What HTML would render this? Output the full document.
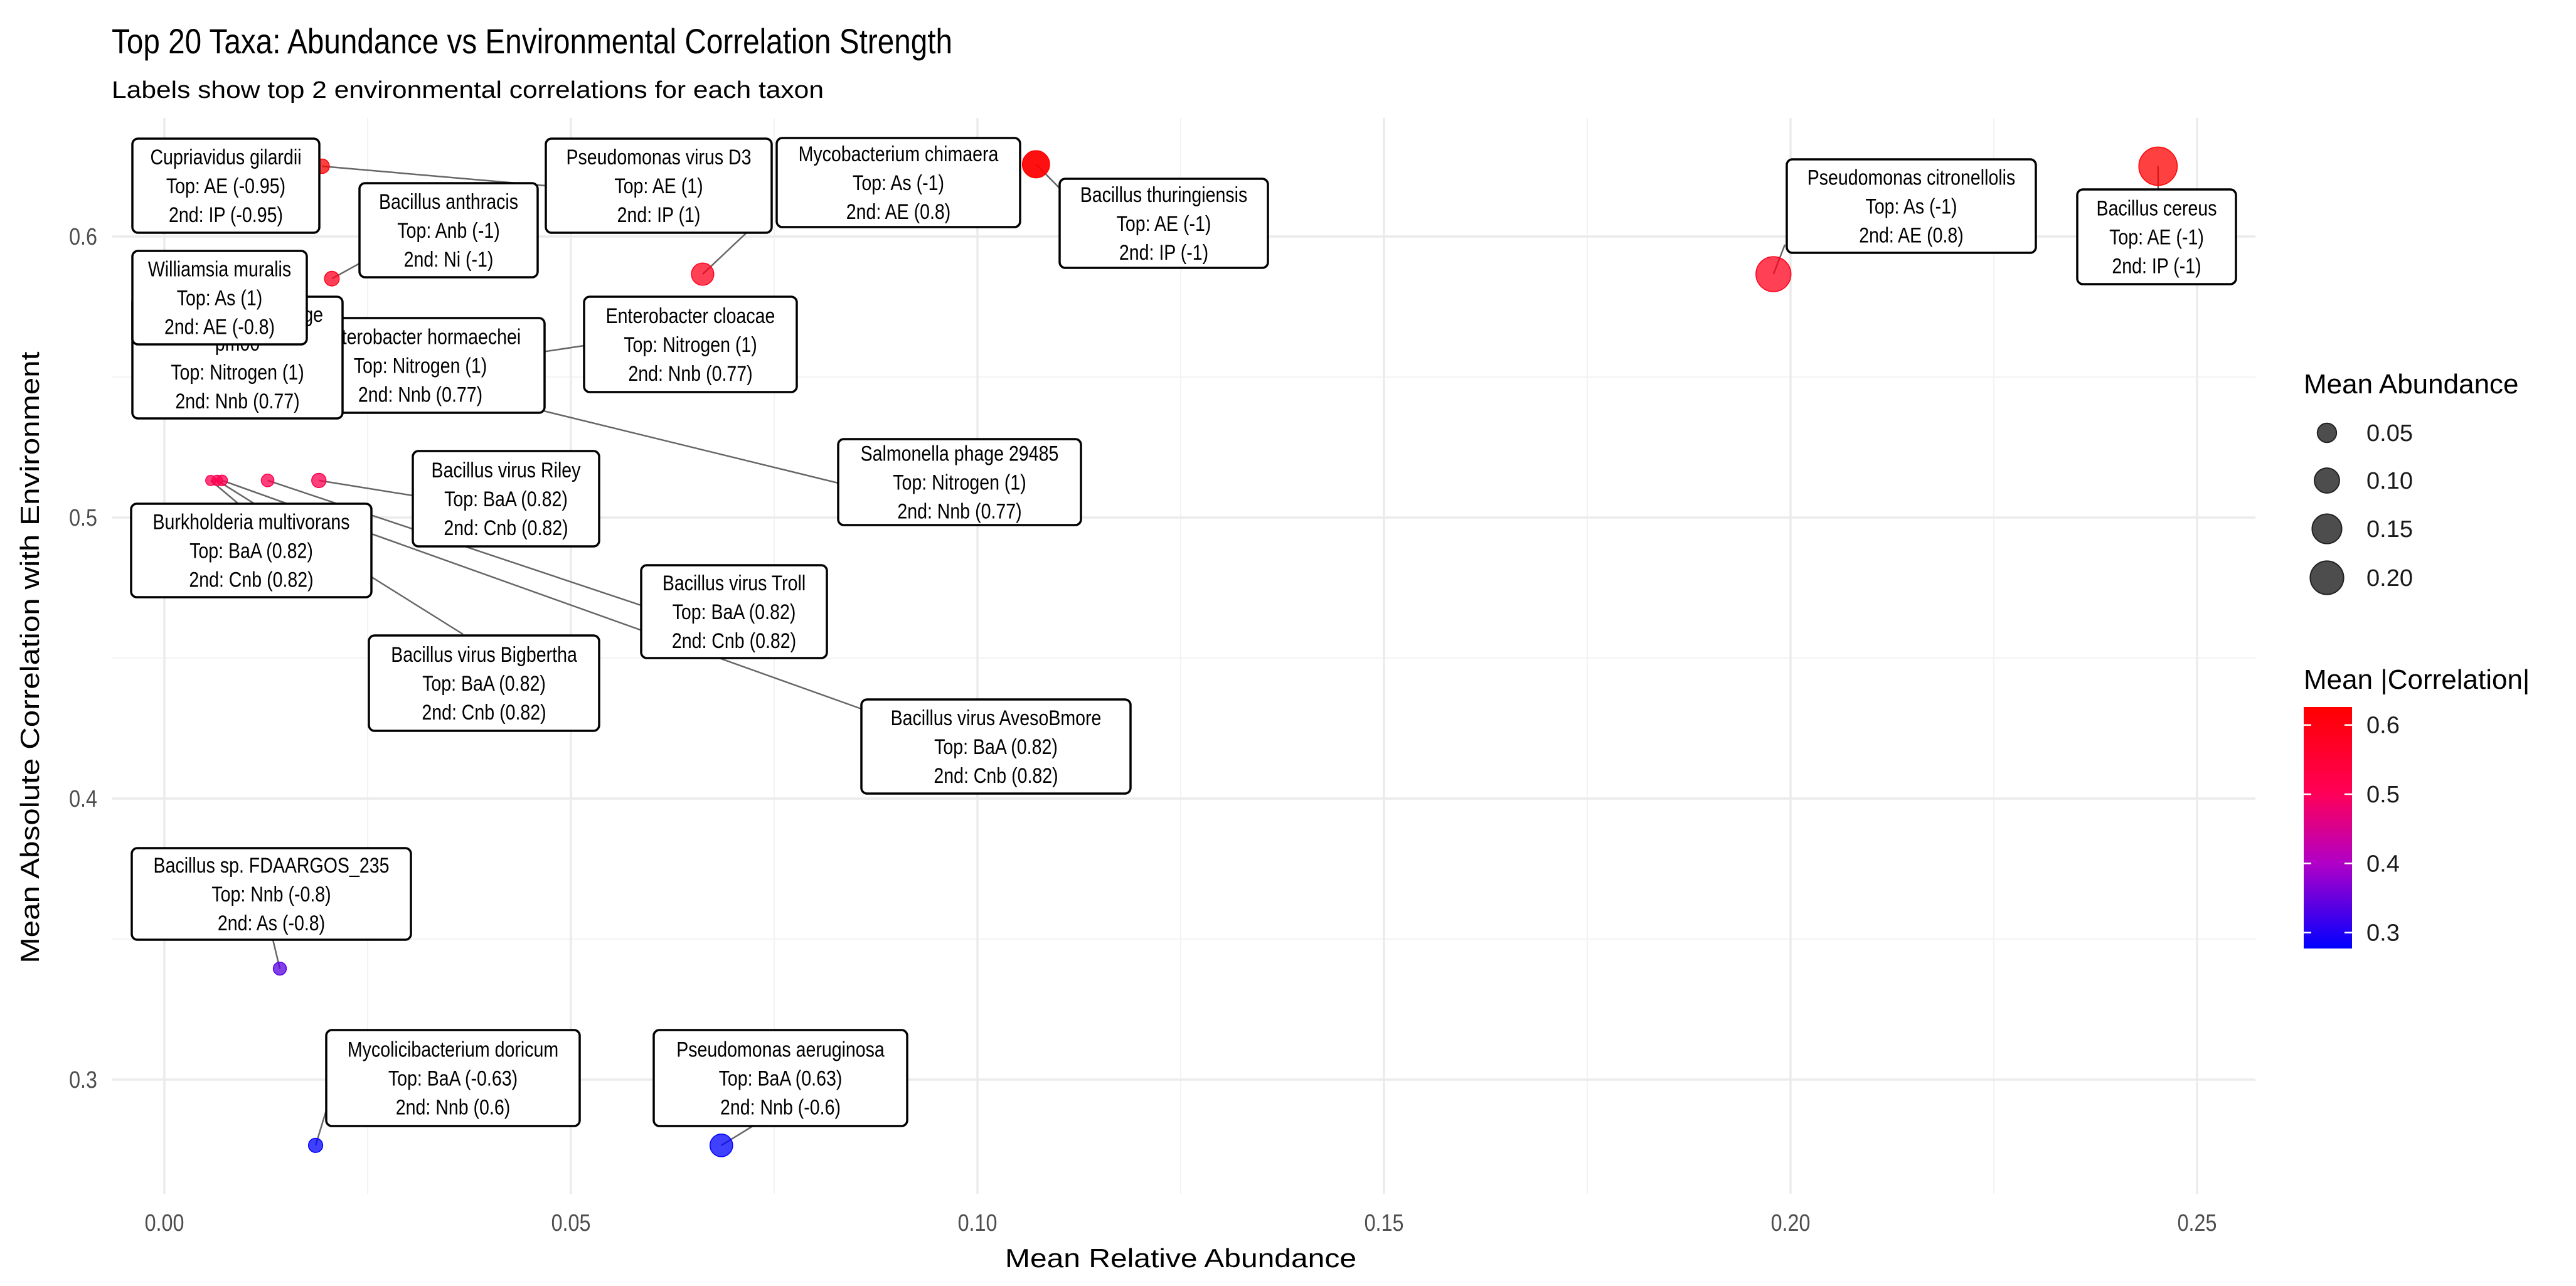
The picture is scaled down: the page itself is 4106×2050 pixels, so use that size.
<!DOCTYPE html>
<html><head><meta charset="utf-8"><style>
html,body{margin:0;padding:0;background:#fff}
svg{display:block;font-family:"Liberation Sans",Arial,sans-serif}
</style></head><body>
<svg id="chart" width="4106" height="2050" viewBox="0 0 4106 2050" xmlns="http://www.w3.org/2000/svg">
<rect width="4106" height="2050" fill="#fff"/>
<text x="178" y="85" font-size="56" textLength="1340" lengthAdjust="spacingAndGlyphs" fill="#000">Top 20 Taxa: Abundance vs Environmental Correlation Strength</text>
<text x="178" y="156" font-size="38" textLength="1135" lengthAdjust="spacingAndGlyphs" fill="#000">Labels show top 2 environmental correlations for each taxon</text>
<g id="grid"></g>
<g id="axes"></g>
<g id="segments"></g>
<g id="points"></g>
<g id="labels"></g>
<text x="1882" y="2020" font-size="42" text-anchor="middle" textLength="560" lengthAdjust="spacingAndGlyphs">Mean Relative Abundance</text>
<text transform="translate(62,1048) rotate(-90)" font-size="42" text-anchor="middle" textLength="975" lengthAdjust="spacingAndGlyphs">Mean Absolute Correlation with Environment</text>
<g id="legend"></g>
</svg>
<script>
const taxa = ["Cupriavidus gilardii","Pseudomonas virus D3","Mycobacterium chimaera","Bacillus anthracis","Bacillus thuringiensis","Pseudomonas citronellolis","Bacillus cereus","Enterobacter cloacae","Enterobacter hormaechei","Enterobacteria phage|pm00","Williamsia muralis","Salmonella phage 29485","Bacillus virus Riley","Burkholderia multivorans","Bacillus virus Troll","Bacillus virus Bigbertha","Bacillus virus AvesoBmore","Bacillus sp. FDAARGOS_235","Mycolicibacterium doricum","Pseudomonas aeruginosa"];
const topCorr = ["Top: AE (-0.95)","Top: AE (1)","Top: As (-1)","Top: Anb (-1)","Top: AE (-1)","Top: As (-1)","Top: AE (-1)","Top: Nitrogen (1)","Top: Nitrogen (1)","Top: Nitrogen (1)","Top: As (1)","Top: Nitrogen (1)","Top: BaA (0.82)","Top: BaA (0.82)","Top: BaA (0.82)","Top: BaA (0.82)","Top: BaA (0.82)","Top: Nnb (-0.8)","Top: BaA (-0.63)","Top: BaA (0.63)"];
const secondCorr = ["2nd: IP (-0.95)","2nd: IP (1)","2nd: AE (0.8)","2nd: Ni (-1)","2nd: IP (-1)","2nd: AE (0.8)","2nd: IP (-1)","2nd: Nnb (0.77)","2nd: Nnb (0.77)","2nd: Nnb (0.77)","2nd: AE (-0.8)","2nd: Nnb (0.77)","2nd: Cnb (0.82)","2nd: Cnb (0.82)","2nd: Cnb (0.82)","2nd: Cnb (0.82)","2nd: Cnb (0.82)","2nd: As (-0.8)","2nd: Nnb (0.6)","2nd: Nnb (-0.6)"];
const abundance = [0.0194,0.0662,0.1072,0.0206,0.1072,0.1979,0.2452,0.0282,0.026,0.012,0.01,0.0282,0.019,0.0057,0.0127,0.0065,0.0071,0.0142,0.0186,0.0685];
const correlation = [0.625,0.5866,0.6257,0.585,0.6257,0.5866,0.625,0.551,0.551,0.551,0.577,0.551,0.5132,0.5132,0.5132,0.5132,0.5132,0.3395,0.2766,0.2766];
const xTicks = [0,0.05,0.1,0.15,0.2,0.25];
const xTickLabels = ["0.00","0.05","0.10","0.15","0.20","0.25"];
const yTicks = [0.3,0.4,0.5,0.6];
const yTickLabels = ["0.3","0.4","0.5","0.6"];
const sizeBreaks = [0.05,0.10,0.15,0.20];
const sizeBreakLabels = ["0.05","0.10","0.15","0.20"];
const colorBreaks = [0.3,0.4,0.5,0.6];
const colorBreakLabels = ["0.3","0.4","0.5","0.6"];

// layout (label box rects and segment end points)
const boxes = [[211,221,509,371],[870,221,1230,371],[1238,220,1626,362],[573,292,857,442],[1689,285,2021,427],[2848,254,3245,403],[3311,302,3564,453],[931,473,1270,625],[472,507,868,658],[211,473,546,667],[211,400,489,549],[1336,700,1723,837],[658,719,955,871],[209,803,592,952],[1022,901,1318,1049],[588,1013,955,1165],[1373,1115,1802,1265],[210,1352,655,1498],[520,1642,924,1795],[1042,1642,1446,1795]];
const segEnds = [[870,296],[1190,371],null,[573,420],[1689,300],[2845,390],[3440,302],[931,551],null,null,null,[1336,770],[658,790],[380,803],[1022,965],[738,1011],[1373,1130],[435,1498],[520,1770],[1200,1795]];

const NS="http://www.w3.org/2000/svg";
const X0=262, XK=12960, Y6=377, YK=4480, PL=179, PR=3595, PT=188, PB=1903;
function xs(v){return X0+v*XK;}
function ys(v){return Y6-(v-0.6)*YK;}
function rs(a){return 4+53.7*Math.sqrt(a);}
const cmin=0.277,cmax=0.626;
const stops=[[0,[0,0,255]],[0.35,[176,0,200]],[0.64,[255,0,88]],[1,[255,0,0]]];
function col(v){let t=Math.max(0,Math.min(1,(v-cmin)/(cmax-cmin)));
 for(let i=1;i<stops.length;i++){if(t<=stops[i][0]){const a=stops[i-1],b=stops[i];const u=(t-a[0])/(b[0]-a[0]);
 const c=a[1].map((q,k)=>Math.round(q+(b[1][k]-q)*u));return `rgb(${c[0]},${c[1]},${c[2]})`;}}return "rgb(255,0,0)";}
function mk(tag,attrs,parent){const e=document.createElementNS(NS,tag);for(const k in attrs)e.setAttribute(k,attrs[k]);parent.appendChild(e);return e;}

const grid=document.getElementById('grid');
for(let v=0.025;v<0.27;v+=0.05){const l=mk('line',{x1:xs(v),x2:xs(v),y1:PT,y2:PB,stroke:'#f3f3f3','stroke-width':2},grid);

}
for(let v=0.35;v<0.63;v+=0.1){const l=mk('line',{x1:PL,x2:PR,y1:ys(v),y2:ys(v),stroke:'#f3f3f3','stroke-width':2},grid);

}
xTicks.forEach(v=>{const l=mk('line',{x1:xs(v),x2:xs(v),y1:PT,y2:PB,stroke:'#ebebeb','stroke-width':3.5},grid);

});
yTicks.forEach(v=>{const l=mk('line',{x1:PL,x2:PR,y1:ys(v),y2:ys(v),stroke:'#ebebeb','stroke-width':3.5},grid);

});

const axes=document.getElementById('axes');
xTicks.forEach((v,i)=>{const t=mk('text',{x:xs(v),y:1962,'font-size':38,'text-anchor':'middle',fill:'#4d4d4d',transform:`translate(${xs(v)},0) scale(0.85,1) translate(${-xs(v)},0)`},axes);t.textContent=xTickLabels[i];

});
yTicks.forEach((v,i)=>{const t=mk('text',{x:155,y:ys(v)+13,'font-size':38,'text-anchor':'end',fill:'#4d4d4d',transform:`translate(155,0) scale(0.85,1) translate(-155,0)`},axes);t.textContent=yTickLabels[i];

});

const segG=document.getElementById('segments'), ptG=document.getElementById('points'), lbG=document.getElementById('labels');
taxa.forEach((name,i)=>{
 const px=xs(abundance[i]), py=ys(correlation[i]);
 if(segEnds[i]){const s=mk('line',{x1:px,y1:py,x2:segEnds[i][0],y2:segEnds[i][1],stroke:'#666','stroke-width':2.5},segG);
 
 }
 const c=mk('circle',{cx:px,cy:py,r:rs(abundance[i]),fill:col(correlation[i]),'fill-opacity':0.75,stroke:col(correlation[i]),'stroke-width':1.5},ptG);
 
 
});
taxa.forEach((name,i)=>{
 const b=boxes[i];
 const g=mk('g',{},lbG);
 
 
 const r=mk('rect',{x:b[0],y:b[1],width:b[2]-b[0],height:b[3]-b[1],rx:9,fill:'#fff',stroke:'#000','stroke-width':3.5},g);
 
 
 const lines=name.split('|').concat([topCorr[i],secondCorr[i]]);
 const cx=(b[0]+b[2])/2, cy=(b[1]+b[3])/2, sp=46;
 const start=cy-sp*(lines.length-1)/2;
 lines.forEach((ln,k)=>{const t=mk('text',{x:0,y:0,'font-size':34,'text-anchor':'middle',fill:'#000',transform:`translate(${cx},${start+k*sp+12}) scale(0.84,1)`},g);t.textContent=ln;
 
 });
});

const lg=document.getElementById('legend');
let t=mk('text',{x:3672,y:627,'font-size':44,fill:'#000'},lg);t.textContent='Mean Abundance';


const sizeY=[690,766,843,921];
sizeBreaks.forEach((v,i)=>{const c=mk('circle',{cx:3709,cy:sizeY[i],r:rs(v)*0.95,fill:'#4d4d4d',stroke:'#222','stroke-width':2},lg);


const tt=mk('text',{x:3772,y:sizeY[i]+13,'font-size':38,fill:'#1a1a1a'},lg);tt.textContent=sizeBreakLabels[i];

});
t=mk('text',{x:3672,y:1098,'font-size':44,fill:'#000'},lg);t.textContent='Mean |Correlation|';


const defs=mk('defs',{},lg);
const grad=mk('linearGradient',{id:'cg',x1:0,y1:1,x2:0,y2:0},defs);
stops.forEach(s=>mk('stop',{offset:s[0],'stop-color':`rgb(${s[1].join(',')})`},grad));
const CB0=1127,CB1=1512;
function cbY(v){return CB1-(v-cmin)/(cmax-cmin)*(CB1-CB0);}
const bar=mk('rect',{x:3672,y:CB0,width:77,height:CB1-CB0,fill:'url(#cg)'},lg);


colorBreaks.forEach((v,i)=>{const y=cbY(v);
mk('line',{x1:3672,x2:3684,y1:y,y2:y,stroke:'#fff','stroke-width':2.5},lg);
mk('line',{x1:3737,x2:3749,y1:y,y2:y,stroke:'#fff','stroke-width':2.5},lg);
const tt=mk('text',{x:3772,y:y+13,'font-size':38,fill:'#1a1a1a'},lg);tt.textContent=colorBreakLabels[i];

});
</script>
</body></html>
